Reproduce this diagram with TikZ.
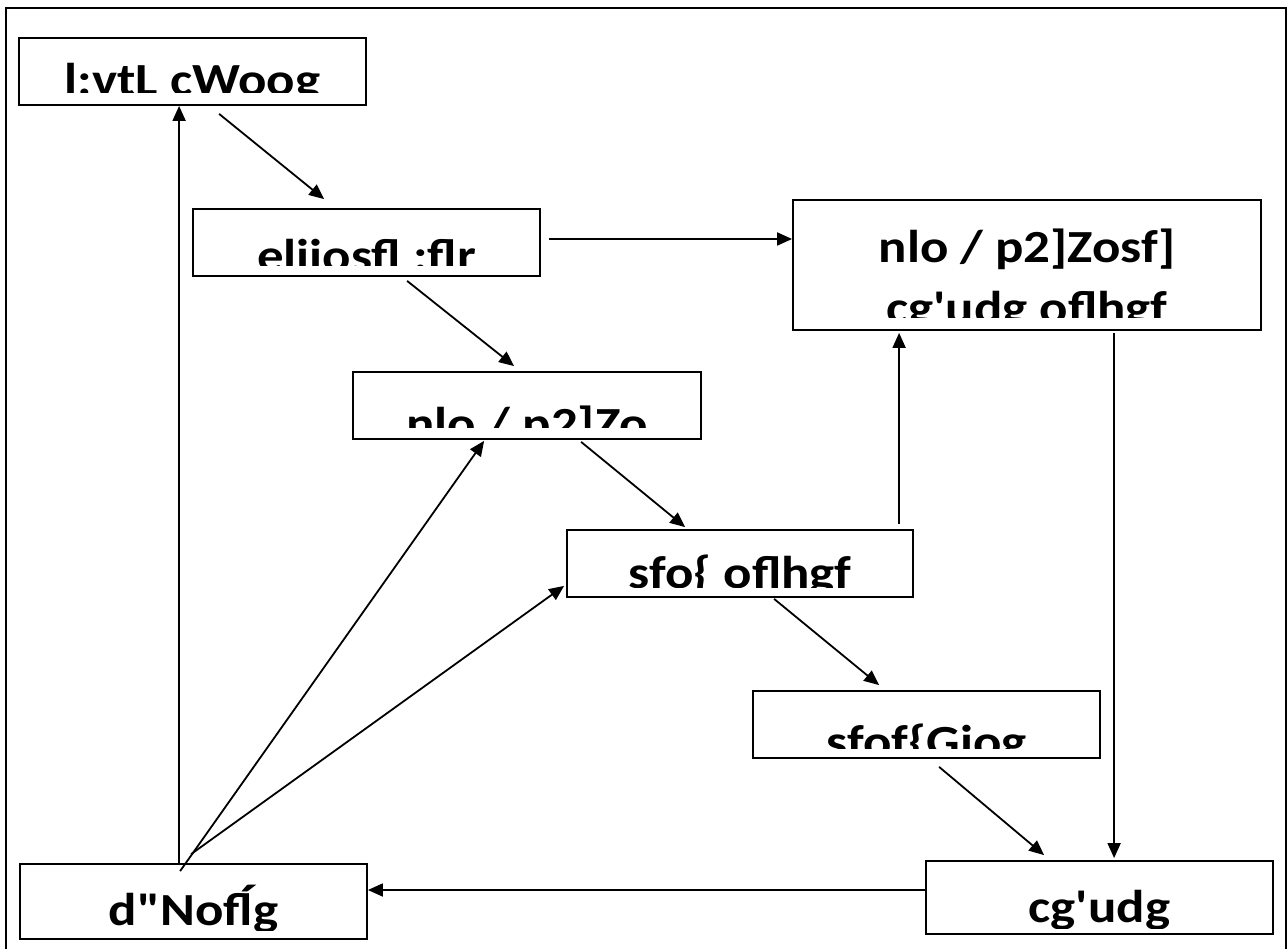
\documentclass[tikz,border=0pt]{standalone}
\usepackage{fontspec}
\usepackage{graphicx}
\newfontfamily\lblfont{Carlito}[Ligatures=TeXOff]
\newcommand\wide[1]{\scalebox{1.15}[1]{#1}}
\usetikzlibrary{arrows.meta,calc}
\tikzset{
  box/.style={draw=black, line width=1.8pt, fill=white, inner sep=0pt},
  lbl/.style={font=\lblfont\bfseries\fontsize{46}{60}\selectfont, inner sep=0pt, anchor=base},
  conn/.style={draw=black, line width=1.8pt, -{Triangle[length=15pt,width=13pt]}},
}
\begin{document}
\begin{tikzpicture}[x=1pt,y=-1pt]
\useasboundingbox (0,0) rectangle (1288,949);
\begin{scope}
\clip (0,0) rectangle (1288,949);
\draw[line width=2pt] (6,8) rectangle (1286,965);
\end{scope}
% boxes
\node[box, minimum width=347pt, minimum height=67pt] (b1) at (192.5,71.5) {};
\node[box, minimum width=347pt, minimum height=67pt] (b2) at (366.5,242.5) {};
\node[box, minimum width=468pt, minimum height=130pt] (b3) at (1027,265) {};
\node[box, minimum width=348pt, minimum height=67pt] (b4) at (527,405.5) {};
\node[box, minimum width=346pt, minimum height=67pt] (b5) at (740,563.5) {};
\node[box, minimum width=347pt, minimum height=67pt] (b6) at (926.5,724.5) {};
\node[box, minimum width=347pt, minimum height=75pt] (b7) at (193.5,901.5) {};
\node[box, minimum width=347pt, minimum height=73pt] (b8) at (1099.5,897.5) {};
% labels (clipped as in the reference)
\begin{scope}\clip (19,38) rectangle (366,93);
\node[lbl] (t1) at (192.5,96) {\wide{l:vtL cWoog}};\end{scope}
\begin{scope}\clip (193,209) rectangle (540,266);
\node[lbl] (t2) at (366.5,272) {\wide{eliiosfl :flr}};\end{scope}
\begin{scope}\clip (793,200) rectangle (1261,318);
\node[lbl] (t3a) at (1027,263) {\wide{nlo / p2]Zosf]}};
\node[lbl] (t3b) at (1027,324) {\wide{cg'udg oflhgf}};\end{scope}
\begin{scope}\clip (353,372) rectangle (701,428);
\node[lbl] (t4) at (527,439) {\wide{nlo / p2]Zo}};\end{scope}
\begin{scope}\clip (567,530) rectangle (913,587);
\node[lbl] (t5) at (740,588) {\wide{sfo\{ oflhgf}};\end{scope}
\begin{scope}\clip (753,691) rectangle (1100,748);
\node[lbl] (t6) at (926.5,757) {\wide{sfof\{Giog}};\end{scope}
\begin{scope}\clip (20,864) rectangle (367,930);
\node[lbl] (t7) at (193.5,925) {\wide{d"Nofĺg}};\end{scope}
\begin{scope}\clip (926,861) rectangle (1273,928);
\node[lbl] (t8) at (1099.5,922) {\wide{cg'udg}};\end{scope}
% connectors
\draw[conn] ($(b7.north west)+(160,0)$) -- ($(b1.south west)+(161,0)$);
\draw[conn] ($(b1.south west)+(201,8)$) -- ($(b2.north west)+(132,-9)$);
\draw[conn] ($(b2.east)+(8,-3.5)$) -- ($(b3.west)+(0,-26)$);
\draw[conn] ($(b2.south west)+(215,4)$) -- ($(b4.north west)+(162,-5)$);
\draw[conn] ($(b4.south west)+(229,2)$) -- ($(b5.north west)+(119,-2)$);
\draw[conn] ($(b5.south west)+(208,1)$) -- ($(b6.north west)+(127,-5)$);
\draw[conn] ($(b6.south west)+(187,8)$) -- ($(b8.north west)+(119,-5)$);
\draw[conn] ($(b3.south west)+(322,2)$) -- ($(b8.north west)+(189,-2)$);
\draw[conn] ($(b5.north west)+(333,-5)$) -- ($(b3.south west)+(107,2)$);
\draw[conn] ($(b8.west)+(0,-7.5)$) -- ($(b7.east)+(0,-11.5)$);
\draw[conn] ($(b7.north west)+(161,8)$) -- ($(b4.south west)+(132,1)$);
\draw[conn] ($(b7.north west)+(172,-9)$) -- ($(b5.south west)+(-2,-12)$);
\end{tikzpicture}
\end{document}
